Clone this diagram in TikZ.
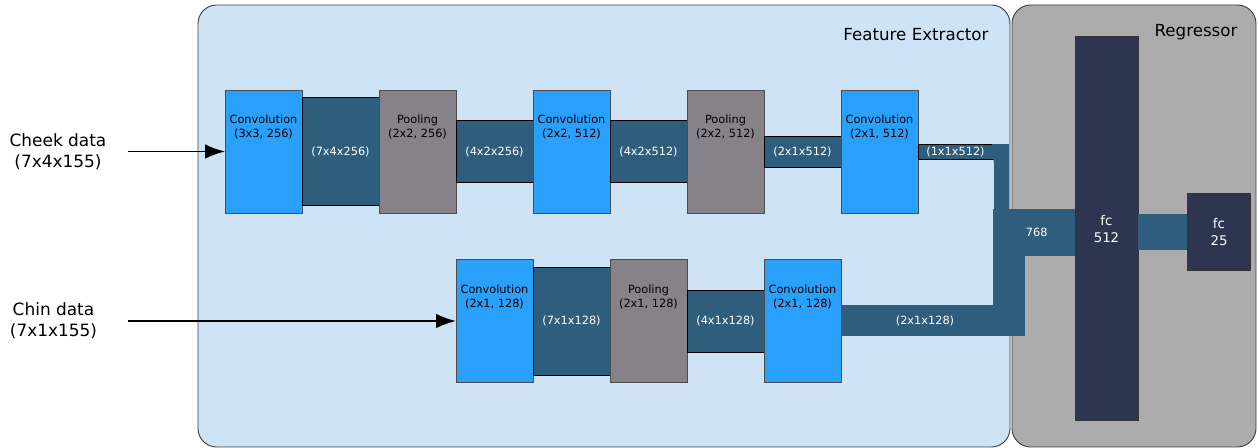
\documentclass[tikz,border=0pt]{standalone}
\usepackage{fontspec}
\setmainfont{DejaVu Sans}
\usetikzlibrary{shapes,arrows,arrows.meta,positioning}

\definecolor{convblue}{HTML}{2AA0FD}
\definecolor{mapblue}{HTML}{2F5D7C}
\definecolor{poolgray}{HTML}{87828A}
\definecolor{fcnavy}{HTML}{2E3550}
\definecolor{febg}{HTML}{CFE3F7}
\definecolor{regbg}{HTML}{ACACAC}

\begin{document}
\begin{tikzpicture}[
                  x=0.75pt, y=-0.75pt,
                  node distance=0pt, outer sep=0pt,
                  panel/.style={rectangle, draw=black!75, line width=0.7pt, rounded corners=14pt, inner sep=0pt},
                  title/.style={inner sep=0pt, font=\fontsize{12.5}{15.5}\selectfont},
                  conv/.style={rectangle, draw=black!70, line width=0.6pt, fill=convblue, minimum width=57.75pt, minimum height=92.25pt, inner sep=0pt},
                  pool/.style={conv, fill=poolgray},
                  fmap/.style={rectangle, draw=black, line width=0.6pt, fill=mapblue, minimum width=57.75pt, inner sep=0pt, text=white, font=\fontsize{8.5}{10.5}\selectfont},
                  bus/.style={draw=mapblue, fill=mapblue},
                  fc/.style={rectangle, draw=black!80, line width=0.6pt, fill=fcnavy, inner sep=0pt, text=white, align=center, font=\fontsize{10}{12.75}\selectfont},
                  boxtext/.style={inner sep=0pt, align=center, font=\fontsize{8.5}{10.5}\selectfont},
                  inlabel/.style={inner sep=0pt, align=center, minimum width=105pt, font=\fontsize{12.7}{15.7}\selectfont},
                  line/.style={draw, -{Latex[length=15pt,width=11pt]}, line width=1.3pt}
            ]
            \useasboundingbox (0,0) rectangle (1258,448);

            % Panels
            \node [panel, fill=febg, minimum width=609pt, minimum height=331.5pt] (fe) at (604,226) {};
            \node [panel, fill=regbg, minimum width=183pt, minimum height=331.5pt] (reg) at (1134,226) {};
            \node [title] (fetitle) at (916,35) {Feature Extractor};
            \node [title] (regtitle) at (1196,32) {Regressor};

            % Inputs
            \node [inlabel] (cheek) at (58,151.5) {Cheek data\\(7x4x155)};
            \node [inlabel, minimum width=111.75pt] (chin) at (53.5,321) {Chin data\\(7x1x155)};

            % Cheek branch
            \node [conv] (c1) at (263.5,151.5) {};
            \node [fmap, minimum height=81pt, right=of c1] (m1) {(7x4x256)};
            \node [pool, right=of m1] (p1) {};
            \node [fmap, minimum height=46.5pt, right=of p1] (m2) {(4x2x256)};
            \node [conv, right=of m2] (c2) {};
            \node [fmap, minimum height=46.5pt, right=of c2] (m3) {(4x2x512)};
            \node [pool, right=of m3] (p2) {};
            \node [fmap, minimum height=23.25pt, right=of p2] (m4) {(2x1x512)};
            \node [conv, right=of m4] (c3) {};
            \node [fmap, minimum height=11.25pt, minimum width=56.25pt, right=of c3] (m5) {(1x1x512)};

            % Chin branch
            \node [conv] (b1) at (494.5,321) {};
            \node [fmap, minimum height=81pt, right=of b1] (n1) {(7x1x128)};
            \node [pool, right=of n1] (q1) {};
            \node [fmap, minimum height=46.5pt, right=of q1] (n2) {(4x1x128)};
            \node [conv, right=of n2] (b2) {};
            \node [fmap, draw=none, minimum height=23.25pt, minimum width=126pt, right=of b2] (n3) {};

            % Regressor
            \node [fmap, draw=none, minimum width=61.5pt, minimum height=35.25pt] (cat) at (1034,232.5) {};
            \node [fc, minimum width=47.25pt, minimum height=288pt] (fc1) at (1106.5,228.8) {fc\\512};
            \node [fc, minimum width=47.5pt, minimum height=57.75pt] (fc2) at (1219,232.3) {fc\\25};

            % Edges
            \path [line] (cheek) -- (c1);
            \path [line] (chin) -- (b1);
            \draw [bus, line width=11.25pt] ([xshift=-0.6pt]m5.east) -- ([xshift=6pt]m5.east) -- ([xshift=6pt]m5.east |- cat.north);
            \draw [bus, line width=24pt] (n3.east |- cat.south) -- (n3.south east);
            \draw [bus, line width=27pt] (fc1.east |- fc2.west) -- (fc2.west);
            \node [fmap, draw=none, fill=none] (n3t) at (n3) {(2x1x128)};
            \node [fmap, draw=none, fill=none] (catt) at ([xshift=2pt]cat.center) {768};

            % Labels
            \node [boxtext, below=19pt of c1.north] (c1t) {Convolution\\(3x3, 256)};
            \node [boxtext, below=19pt of p1.north] (p1t) {Pooling\\(2x2, 256)};
            \node [boxtext, below=19pt of c2.north] (c2t) {Convolution\\(2x2, 512)};
            \node [boxtext, below=19pt of p2.north] (p2t) {Pooling\\(2x2, 512)};
            \node [boxtext, below=19pt of c3.north] (c3t) {Convolution\\(2x1, 512)};
            \node [boxtext, below=19pt of b1.north] (b1t) {Convolution\\(2x1, 128)};
            \node [boxtext, below=19pt of q1.north] (q1t) {Pooling\\(2x1, 128)};
            \node [boxtext, below=19pt of b2.north] (b2t) {Convolution\\(2x1, 128)};
      \end{tikzpicture}
\end{document}
